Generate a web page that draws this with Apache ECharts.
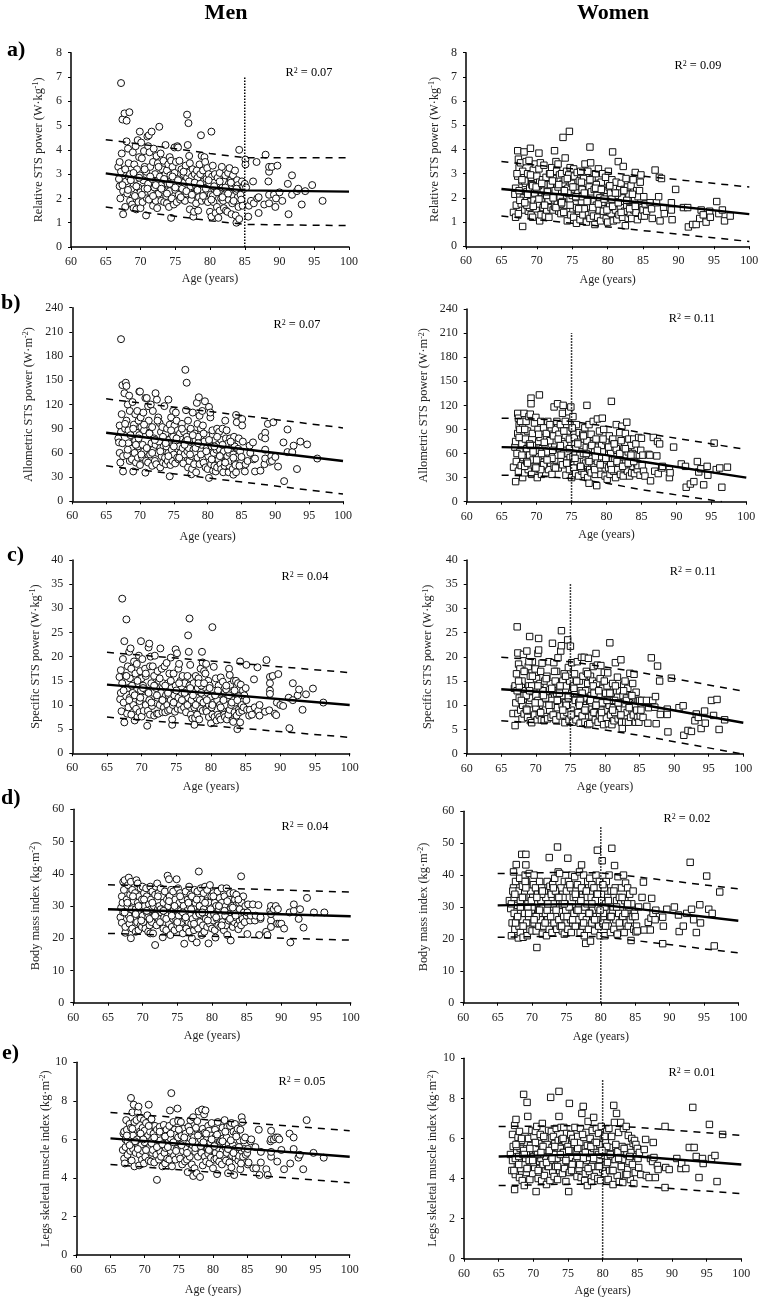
<!DOCTYPE html>
<html><head><meta charset="utf-8">
<style>html,body{margin:0;padding:0;background:#fff}#c{width:770px;height:1306px}</style>
<script src="https://cdn.jsdelivr.net/npm/echarts@6/dist/echarts.min.js"></script>
</head><body><div id="c"></div>
<script>
const menAges=[
66.8,66.9,67.0,67.0,67.1,67.2,67.2,67.3,67.4,67.5,67.5,67.7,67.8,67.9,
68.0,68.0,68.1,68.2,68.3,68.3,68.4,68.5,68.5,68.7,68.8,68.9,69.0,69.0,
69.1,69.2,69.3,69.3,69.4,69.5,69.6,69.7,69.7,69.8,69.9,69.9,70.0,70.0,
70.1,70.2,70.3,70.4,70.5,70.6,70.6,70.8,70.8,70.9,71.0,71.1,71.1,71.2,
71.2,71.3,71.4,71.5,71.6,71.7,71.8,71.8,71.9,72.0,72.1,72.2,72.3,72.3,
72.4,72.5,72.6,72.7,72.8,72.9,73.0,73.0,73.1,73.2,73.3,73.4,73.5,73.6,
73.6,73.7,73.8,73.8,73.9,74.0,74.1,74.2,74.2,74.3,74.4,74.4,74.5,74.6,
74.7,74.8,74.9,74.9,75.0,75.1,75.2,75.3,75.3,75.4,75.5,75.6,75.7,75.8,
75.9,76.0,76.1,76.2,76.3,76.4,76.5,76.6,76.7,76.7,76.8,76.9,76.9,77.0,
77.1,77.1,77.2,77.3,77.4,77.5,77.6,77.6,77.7,77.8,77.9,78.0,78.1,78.1,
78.2,78.3,78.4,78.5,78.5,78.6,78.7,78.8,78.8,78.9,79.0,79.1,79.2,79.3,
79.3,79.4,79.5,79.6,79.7,79.7,79.8,79.9,80.0,80.1,80.2,80.2,80.3,80.4,
80.4,80.5,80.6,80.7,80.8,80.9,81.0,81.1,81.2,81.3,81.4,81.4,81.5,81.6,
81.7,81.8,81.9,82.0,82.0,82.1,82.2,82.3,82.4,82.5,82.6,82.7,82.7,82.8,
82.9,83.0,83.1,83.2,83.2,83.3,83.4,83.5,83.6,83.7,83.8,83.8,83.9,84.0,
84.0,84.1,84.2,84.2,84.3,84.4,84.5,84.6,84.7,84.8,
67.4,67.8,68.2,68.6,69.0,69.4,69.8,70.2,70.6,71.0,71.4,71.8,72.2,72.6,
73.0,73.4,73.8,74.2,74.6,75.0,75.4,75.8,76.2,76.6,77.0,77.4,77.8,78.2,
78.6,79.0,79.4,79.8,80.2,80.6,81.0,81.4,81.8,82.2,82.6,83.0,83.4,83.8,
85.0,85.1,85.1,85.2,85.5,85.6,85.9,86.2,86.3,86.7,86.8,87.0,87.0,87.8,88.0,88.4,88.5,88.5,88.5,88.5,88.9,89.2,89.4,89.5,89.7,90.0,90.4,91.2,91.3,91.8,91.8,92.5,92.7,93.2,93.7,94.7,96.2];
const menRelative=[
3.3,2.8,3.5,2.5,2.0,6.75,3.1,3.85,5.25,1.35,2.3,5.5,1.65,2.7,
5.2,4.35,2.2,4.05,2.9,3.45,5.55,1.9,3.0,2.4,1.75,3.9,2.6,1.6,
3.4,2.1,4.15,2.8,1.55,3.2,4.4,2.45,1.85,3.7,4.75,2.95,1.6,2.25,
4.3,3.65,1.85,2.75,3.95,2.4,3.3,1.3,3.1,2.0,4.55,4.15,2.6,4.6,
1.95,3.9,3.3,2.25,4.75,2.8,1.7,3.5,4.05,2.45,3.0,1.9,3.75,2.7,
1.6,3.45,2.2,4.95,2.9,3.85,1.9,2.55,3.2,2.35,3.55,1.85,2.75,3.0,
4.2,2.1,3.15,1.8,2.6,3.4,1.65,3.7,2.3,2.95,1.2,3.55,2.0,3.3,
2.55,1.75,4.1,3.05,2.35,3.5,1.85,4.15,2.8,4.1,2.15,3.55,1.95,2.7,
3.2,2.4,2.0,3.0,2.65,1.9,3.35,2.2,5.45,2.85,4.2,5.1,3.05,3.75,
1.55,3.45,2.5,1.95,2.9,3.2,1.25,2.2,1.45,3.0,2.55,1.8,3.15,2.3,
2.85,1.5,2.05,3.4,2.5,3.0,4.6,1.9,3.75,2.35,3.15,2.7,3.7,2.05,
3.5,1.95,2.8,3.25,2.3,1.85,3.0,2.6,1.45,2.15,4.75,1.25,2.9,3.35,
2.1,1.85,2.65,3.0,1.4,2.4,1.65,2.85,1.2,2.25,3.05,1.5,2.6,2.0,
3.3,2.45,1.9,2.7,1.6,2.15,2.95,1.5,2.35,1.45,3.05,2.6,1.95,3.25,
2.2,2.75,1.35,2.5,1.8,2.95,2.1,2.6,3.15,1.3,1.0,2.3,2.75,2.05,
2.55,1.65,4.0,1.15,2.4,2.15,1.95,2.7,1.7,2.5,
2.55,3.2,2.35,2.75,3.05,2.5,2.85,2.15,3.2,2.4,2.9,2.1,2.55,3.3,
2.4,2.8,2.2,2.6,2.9,2.45,2.75,2.05,3.1,2.3,2.7,2.15,2.65,2.35,
2.6,2.1,2.4,2.75,1.95,2.5,2.25,2.7,2.05,2.45,2.2,2.65,1.9,2.4,
2.6,3.6,3.4,2.45,1.25,1.7,1.9,2.7,1.8,3.5,2.0,2.05,1.4,1.75,3.8,2.7,3.1,3.3,2.15,1.8,3.3,2.15,1.65,2.0,3.35,2.25,1.9,2.6,1.35,2.95,2.15,2.3,2.4,1.75,2.3,2.55,1.9];
const menAllometric=[
78,73,94,60,48,201,86,108,144,37,56,134,90,147,
100,143,57,120,72,88,131,50,112,65,52,123,80,37,
95,60,108,75,48,85,112,68,54,100,136,82,45,136,
104,92,55,70,110,62,88,35.5,128,50,128,96,66,118,
48,100,85,58,120,72,44,92,112,64,78,50,134,70,
46,126,60,104,74,97,42,66,86,56,92,48,68,80,
118,54,84,46,68,90,50,126,60,76,31,95,45,104,
64,50,112,80,58,94,47,110,72,100,54,88,52,68,
84,60,52,96,66,47,86,58,163,74,113,147,80,62,
42,100,66,50,74,90,33.5,56,40,110,64,46,84,60,
76,36,122,96,54,80,129,46,106,64,90,70,112,52,
94,48,74,124,60,42,82,66,40,56,29,117,72,104,
110,46,68,88,38,60,44,76,37,64,90,42,70,52,
86,64,46,76,40,58,90,36,62,44,100,78,50,88,
56,72,36,60,44,78,50,66,74,40,33,58,80,48,
68,45,107,36,98,55,65,78,44,62,
72,96,64,82,90,70,78,58,95,66,84,60,76,100,
62,80,72,56,88,68,78,54,90,70,76,58,82,66,
72,58,84,62,76,52,68,80,56,70,48,64,74,54,
55,102,94,74,37,46,50,69,60,73,52,53,37,38,80,46,85,78,64,53,96,49,56,50,98,55,43,73,25,89,61,61,69,40,74,70.5,53];
const menSpecific=[
15.8,11.2,17.2,12.5,8.7,32,14.5,19.5,10.5,6.4,23.2,16,27.7,8.2,
13.5,18,9.5,21,11.5,15.5,21.7,8,17.5,12.5,10,19,14.5,6.8,
16.5,9.2,18.5,12,7.5,14.5,20.2,10.8,8.5,17,23.2,13,7.6,15.5,
19.5,14,8.8,11.5,17.5,10,16,5.7,13,8.8,21.9,22.7,11,18,
8,20,14.5,9.8,18,12.5,7.8,16,20.2,10.5,13.5,8.2,17,11.5,
8.2,15,10,21.7,12.5,17.5,8.5,11,14.5,9.5,18,8.5,12,13.8,
18.7,10,14.5,8.8,12,16.5,9,19.8,11,13.5,5.9,7,10,16.5,
12,8.6,21.5,14,10.5,20.7,9.2,17.5,11.5,18.5,10,15,9,12.5,
16,11,9.5,14.5,12,8.5,13,10,24.4,11.5,21,27.9,14,18.3,
8,15.5,11,7.2,13,14.5,5.9,9.5,7.3,16,11.5,8,13.5,10,
15.5,7,11,17.5,9.2,14,21,8.8,18.8,10.5,17,12,16.5,9,
18.5,8.6,12.5,15,10,7.5,14,11.5,6.2,9.5,26.1,8,13,17.9,
10.5,7.5,12,15.5,6.8,11,8,14,7.5,10,15.7,7,12.5,9.2,
14.8,11,8,12.5,7.5,10,13.2,7,11.5,8,17.5,16.2,9,14.2,
10,12.5,6.8,11,6.5,15,8.5,10.5,15,7.8,5,12,14.5,9,
11.8,8.5,19,6.4,14.2,10,8.8,13,9.5,12,
13,16,11,14,12,15,11.5,13.5,16.5,12.5,10.5,14,12,15.5,
11,14,12.5,15,10.5,13,14.5,11,12.5,16,13.5,12,10,14.5,
12.5,14.5,11,13.5,10,12,13,9.5,11,14,12,10.5,13,11,
13.5,18.3,11,9,7.8,9,8,15.3,9.5,17.8,8.8,10,7.8,8.6,19.3,8.9,13,15.8,14.5,12.3,16,8.2,7.9,10.5,16.4,10,9.8,11.5,5.2,14.5,11,12,13.2,9,12.2,13.4,10.5];
const menBmi=[
26.5,29.5,33,24.8,31,37.5,28,35,38,21.7,23.5,32,30,36.5,
38.8,27,24.5,33.5,37.5,20,29,35,23,31.5,26.5,34,22,29,
38,25,37,31,22.5,33,27.5,35.5,24,29.5,23.5,32,36,27,
25,34,30,23,35.5,28,33,22,26.5,30.5,24,36,21.5,29,
32,25,34.5,21.5,30,27,17.9,33.5,36,24,37,29,26,34,
30,25,35.5,28,33,20.3,23,31,26.5,34.5,28.5,22.5,32,39.4,
27,30,38.3,24.5,33,21,35,28,23.5,31,26,34.5,29,22.5,
32,26,38.3,29,24,35.5,27,31,23,34,28.5,25,32,21.5,
30,18.3,26,34.5,23,28.5,32,25,36,22,30,27,33.5,24.5,
20,33,26,29.5,22.5,35,24,31,27,18.7,34.5,23,40.7,28,
30,25,35.5,21,32,27,24,34,29,22,36,26,31.5,23.5,
35,28,18.4,31,24.5,36.5,27,33,23,29.5,25.5,34,27.5,31,
22.5,20.2,30,26,34.5,24,29,32.5,23.5,27,31,35.5,25,29,
22.5,33,27,30,24,35.5,21,28.5,25.5,32,34,19.3,29.5,26,
30,23.5,34,28,25,32,26.5,33.5,30.5,24,27,22.8,31,25.5,
29,27,39.2,24,31,26,33,28,25,30,
28,31,26,33,27.5,30,25.5,32,28.5,26,31,27,33,29,
28.5,26,31.5,27,30,25,33,28,26.5,31,29,24.5,32,27.5,
28,31,25.5,29,33,26.5,30,24,28.5,31.5,26,29.5,27,32,
27,21.3,28,30.5,25.5,27,30.5,25.5,27,30.3,21,26,26.5,22,21,28.5,25.5,23.5,30,27.5,29,30,24.5,29,24.5,24.5,23,28,18.7,28.5,30.5,26,29,23.3,32.5,28,28];
const menLegs=[
5.45,6.3,5.0,6.4,4.75,6.0,5.6,7.0,6.5,5.2,5.9,6.1,6.8,5.4,
8.15,6.6,4.9,7.4,5.5,6.2,7.8,4.6,6.9,5.3,7.0,6.0,5.6,7.4,
7.7,4.65,6.4,5.2,7.1,5.7,4.95,6.6,5.4,6.1,7.0,4.75,5.85,6.45,
5.1,6.85,5.5,7.25,6.2,4.9,7.8,5.65,6.4,4.85,7.05,6.0,5.3,6.7,
5.45,6.3,4.8,6.7,5.8,5.2,3.9,6.5,5.6,6.1,4.95,6.65,5.35,5.95,
5.1,6.4,4.6,5.7,6.75,5.3,6.1,4.75,5.55,6.5,5.0,6.2,5.85,4.95,
6.7,7.5,6.05,5.4,8.4,4.6,6.35,5.6,6.9,5.15,6.5,5.85,4.95,6.25,
5.5,7.6,6.1,6.95,5.2,6.45,5.0,6.9,5.75,6.2,4.7,5.4,6.55,5.95,
4.85,6.3,5.55,4.95,4.3,6.65,5.8,5.1,6.05,7.0,5.45,6.3,4.7,5.7,
4.1,7.15,6.1,4.5,5.35,6.6,4.25,5.85,6.95,5.1,7.45,6.25,5.5,4.05,
6.0,5.3,7.55,4.65,6.55,5.75,7.3,5.1,6.35,7.5,4.85,6.0,5.5,6.7,
5.25,6.45,4.75,5.85,6.2,5.05,6.85,5.45,4.5,6.0,5.7,4.95,6.5,5.3,
6.15,5.0,4.2,6.9,5.55,4.85,6.3,5.2,5.95,4.7,6.6,5.4,6.05,5.1,
7.0,5.6,4.9,6.1,5.3,6.65,4.25,5.75,4.8,6.7,5.45,4.55,6.85,5.15,
5.7,6.4,4.15,5.5,6.8,5.05,6.3,5.25,6.55,4.9,5.6,5.15,5.95,4.45,
6.5,4.75,7.15,5.4,6.9,5.1,5.95,5.5,6.1,5.2,
6.2,5.7,6.55,5.9,5.5,6.3,6.0,5.45,6.7,5.8,6.1,5.6,6.4,5.75,
6.15,5.6,6.3,5.85,5.4,6.5,5.7,6.1,5.3,6.45,5.9,5.55,6.2,5.65,
5.85,6.3,5.45,6.0,5.65,6.25,5.2,5.9,6.4,5.5,5.95,5.3,6.15,5.6,
5.3,4.7,5.5,4.8,5.9,6.0,4.5,5.6,4.5,6.5,4.15,5.35,4.8,4.45,4.15,5.9,6.45,5.1,5.35,6.0,6.0,6.1,4.85,6.1,6.0,5.45,4.45,6.3,4.75,6.1,5.5,5.05,5.2,4.45,7.0,5.3,5.05];

const womenAges=[
66.7,66.9,67.0,67.0,67.1,67.3,67.3,67.4,67.4,67.5,67.6,67.7,67.8,67.9,
68.0,68.0,68.1,68.2,68.3,68.4,68.5,68.6,68.6,68.7,68.8,68.9,69.0,69.1,
69.1,69.2,69.2,69.3,69.4,69.5,69.6,69.7,69.8,69.9,70.0,70.1,70.2,70.3,
70.3,70.4,70.4,70.5,70.6,70.7,70.8,70.9,71.0,71.1,71.2,71.3,71.4,71.5,
71.6,71.7,71.8,71.9,72.0,72.1,72.2,72.3,72.4,72.5,72.5,72.6,72.7,72.8,
72.9,73.0,73.0,73.1,73.2,73.3,73.4,73.5,73.6,73.7,73.7,73.8,73.9,74.0,
74.0,74.1,74.2,74.3,74.4,74.5,74.6,74.7,74.7,74.8,74.9,75.0,75.1,75.2,
75.2,75.3,75.4,75.5,75.6,75.7,75.8,75.9,76.0,76.1,76.2,76.3,76.4,76.5,
76.6,76.7,76.8,76.9,77.0,77.1,77.2,77.3,77.3,77.4,77.5,77.5,77.6,77.7,
77.8,77.8,77.9,78.0,78.1,78.2,78.3,78.4,78.5,78.6,78.7,78.7,78.8,78.9,
79.0,79.1,79.2,79.3,79.4,79.5,79.6,79.7,79.8,79.9,80.0,80.1,80.2,80.3,
80.4,80.5,80.6,80.7,80.8,80.9,81.0,81.1,81.2,81.3,81.4,81.5,81.6,81.7,
81.8,81.9,82.0,82.1,82.2,82.3,82.4,82.5,82.6,82.7,82.8,82.9,83.0,83.1,
83.2,83.3,83.4,83.5,83.6,83.7,83.8,83.9,84.0,84.1,84.2,84.3,84.4,84.5,
84.6,84.7,84.8,84.9,67.2,67.6,68.3,69.0,70.0,71.0,
68.6,69.4,70.6,71.4,72.2,73.4,74.4,75.6,76.4,77.2,78.4,79.4,80.6,81.4,
67.5,67.9,68.3,68.7,69.1,69.5,69.9,70.3,70.7,71.1,71.5,71.9,72.3,72.7,
73.1,73.5,73.9,74.3,74.7,75.1,75.5,75.9,76.3,76.7,77.1,77.5,77.9,78.3,
78.7,79.1,79.5,79.9,80.3,80.7,81.1,81.5,81.9,82.3,82.7,83.1,83.5,83.9,
85.0,85.1,85.2,85.3,85.5,86.0,86.2,86.3,86.7,86.9,87.2,87.3,87.4,87.6,87.9,88.0,89.0,89.0,89.1,89.6,90.7,91.3,91.4,92.0,92.5,93.0,93.2,93.5,93.9,94.4,94.5,95.4,95.7,96.2,96.5,97.3];
const womenRelative=[
1.4,2.15,1.2,2.4,1.7,3.95,2.9,3.6,1.35,3.25,2.05,3.45,1.75,2.7,
0.82,3.1,2.0,3.9,1.5,2.6,3.5,1.9,2.25,3.0,1.45,3.55,2.4,1.85,
4.05,1.3,2.85,2.55,1.2,3.15,1.9,2.2,3.4,1.55,2.9,1.75,2.5,3.85,
3.2,1.05,2.65,3.45,1.3,2.1,2.75,1.6,3.35,2.0,1.25,2.85,1.5,2.35,
1.9,1.2,3.0,2.55,1.6,3.25,2.15,1.5,2.8,3.95,1.65,2.3,3.5,3.1,
1.75,2.45,3.4,1.45,2.95,2.05,1.35,3.0,1.85,4.5,2.6,1.4,2.25,3.65,
2.75,1.7,3.1,1.05,2.4,2.95,4.75,1.95,3.25,1.3,2.6,2.1,1.55,3.2,
1.2,2.9,2.45,1.75,0.95,3.05,2.2,1.45,2.7,1.1,3.1,1.85,2.35,1.3,
2.8,1.55,3.4,2.1,1.0,2.6,3.1,1.3,1.9,2.45,4.1,1.15,3.45,2.25,
1.4,2.8,1.85,1.25,2.35,0.9,3.0,1.7,2.1,1.2,3.2,2.6,1.5,2.0,
1.05,2.65,1.75,3.0,1.3,2.3,1.55,2.85,1.15,2.05,1.0,3.1,2.45,1.65,
2.2,1.35,2.75,3.9,1.05,1.8,2.4,1.5,2.65,1.1,2.1,3.5,1.3,2.35,
1.6,2.6,2.0,1.2,3.3,2.35,1.45,0.85,2.8,1.7,2.45,1.15,2.15,1.85,
1.35,2.5,1.15,1.9,2.75,1.5,1.95,3.05,1.4,2.3,1.1,2.05,1.7,2.3,
2.65,2.95,1.25,1.6,3.0,1.9,2.7,1.6,2.35,2.55,
1.7,2.5,1.95,2.1,2.7,1.75,2.2,1.6,2.05,1.9,2.55,1.45,1.95,2.2,
2.3,2.75,1.8,2.15,2.95,1.65,2.45,1.95,2.6,1.7,2.25,3.0,2.0,1.6,
2.55,1.8,2.3,2.8,1.7,2.45,2.05,1.55,2.65,2.2,1.85,2.75,1.6,2.4,
1.75,2.35,1.95,1.5,2.5,1.65,2.2,1.8,1.4,2.3,1.9,1.55,2.15,1.65,
1.5,2.05,1.25,1.75,1.45,1.8,1.55,1.15,3.15,1.8,2.05,2.85,1.05,2.8,1.6,1.35,1.8,1.5,1.1,2.35,1.6,1.6,0.8,0.9,0.9,1.15,1.5,1.3,1.0,1.45,1.2,1.85,1.35,1.5,1.05,1.25];
const womenAllometric=[
43,68,25,75,50,110,85,104,38,95,62,100,45,72,
30,92,55,110,36,78,100,48,66,88,40,106,58,46,
109,129,122,34,85,52,70,98,44,105,62,30,90,75,
56,133,40,80,100,34,66,46,92,58,72,36,85,50,
100,40,60,76,48,92,34,56,82,118,44,68,90,52,
100,122,58,42,84,66,96,50,75,110,46,120,60,88,
72,100,33,52,88,60,112,40,78,55,118,30,92,56,
106,42,80,62,35,96,50,74,32,86,58,44,70,38,
84,60,34,92,48,68,120,30,76,52,23,96,40,66,
36,84,54,72,100,44,62,34,78,20,103,50,68,40,
88,56,34,70,104,46,90,62,32,76,52,28,66,42,
82,34,60,125,46,78,38,72,52,30,96,64,40,70,
48,86,34,76,94,56,32,66,44,85,58,99,38,62,
78,32,52,70,36,60,44,78,35,58,72,48,40,45,
80,58,33,64,60,90,44,72,52,46,
50,70,40,62,54,70,48,66,42,76,56,62,46,66,
80,58,90,48,70,62,42,84,60,74,52,96,64,42,
78,58,88,48,66,92,54,72,44,82,60,50,70,40,
64,46,78,54,68,40,72,50,60,44,66,48,58,50,
79,45,58,38,32,59,58,26,80,38,57,75,35,72,42,44,40,30,36,68,47,44,18,22,25,50,37,41,21,44,33,73,40,42,18,43];
const womenSpecific=[
8.3,13.5,5.8,14,10.5,26.2,13,20.8,8.3,18.5,11.5,17.5,9,13.8,
7.2,15,10,20.5,8.2,13,17,9.2,12,21.2,7.5,18,14,11,
24.2,6.8,16,11.5,6.4,19,9,13,8,17.5,12,15.5,7,20.7,
11,23.8,21.4,8,14.5,17,7,18.7,10,13,6.8,15,9,12,
16,7.2,11.5,19,9,14.5,7.5,11,22.8,8,13,18.8,10,15,
7,12.5,17,9.5,19.8,11,13.5,7.8,21.2,25.4,22.3,10,15,8,
12,16.5,6.4,10.5,14,8.5,23.5,11.5,17.8,7,15,22.2,9,12.5,
18.8,6.5,14,8.2,16.5,11,7,12.5,19,8.5,10.5,15,6.3,13,
19.9,7.8,16,10,19.9,6.5,13,17,8.8,11.5,14.5,6,19.7,9.5,
10.5,6.2,16,12,7.8,15,18,8.5,13,7,20.7,10,14.5,18.3,
6.5,12,8,15.5,18.2,7.2,10.5,13.5,6,16.8,9,12.5,7.5,14,
16.7,6.2,10,22.9,8,12.5,6,14.5,9.5,6.8,11,18.8,8,13,
15.8,7.2,10.5,13,8,19.4,6.5,5.2,12,14.2,9,15,6.5,11.5,
8.5,13.5,6.5,10.5,16.6,7.5,12,9,14.5,8,16.4,10.2,6.5,12.7,
9,7.5,11,6.5,16.5,14,12,19,9.5,13,
12,14,10.5,11.5,10,12.5,10,13,11,9.5,12.5,9,11,8.5,
15,11,17,9,13,16,10.5,14,8.5,12,15.5,10,13.5,17,
11,14,9,16,12,8,13.5,15,10,12.5,9,16.5,11,14,
10,13,8.5,15,11,12.5,9,14,10.5,8,13,11,9.5,12,
11,7.8,9,11,7.5,11,6.3,9.5,19.8,11,9.6,11.8,6.2,18.1,15,8.1,9.2,8.1,4.5,15.6,9.5,9.9,3.8,4.8,4.6,6.8,8.2,7.5,5.2,8.8,6.3,11,7.9,11.2,5,7];
const womenBmi=[
32,29.5,21,31,25,41,36,28,33,23,38,43.3,26,30.5,
20.3,35,24,39,22,30,46.5,26,36.5,20.5,33,28,40,46.5,
43.2,25,38,21,31,27,40.5,23,35,29,22.5,33,37,25,
40,31,27,36,22.5,17.3,34,29,24,38,26,32,36,21.5,
30,24,35,28,33,21,38,26,31,45.5,23,36.5,29,34,
22,37,28,31,25,39,27,35,23,48.8,33,41,26,30,
40.5,24,36,28.5,22.5,33,27,38,21.5,31,29,35,25,45.3,
23,38,30,27,36,22,40,25,33,28,39.5,24,35,29,
37,26,31,41,22,33,43.2,27,36,24,29,40,21,30,
18.6,35,26,31,38,23,28,39,19.3,33,25,37,29,27,
36,22.5,32,40,26,47.8,30,24,38,21,29,34,44.5,25,
28,36,21,31,38,25,33,24,40,27,22,35,48.4,29,
30,23,43,36,26,32,21.5,39.5,28,33,24,31,36,26,
27,40,22,32,37.5,25,29,36,24,30,34,26,19.5,31,
27,35,23,28,35,25,32,38,30,28,
33,30,27,34,29,35,31,26,33,36,28,34,30,27,
34,27,30,24,36,28,32,26,33,29,35,25,31,27,
36,29,33,24,31,27,37,26,34,29,32,25,35,28,
31,26,34,29,37,24,32,27,35,30,25,33,28,31,
27,22.2,24,22.5,30,33,37.8,22.8,30.2,25.2,22.8,26.5,32.7,28,26,29,26.8,18.5,24,29.3,30,27.5,22.3,24,28,44,29.3,26,22,30.7,25,39.7,29.3,28,17.8,34.7];
const womenLegs=[
5.2,4.4,6.2,4.9,5.6,3.45,6.65,5.0,4.2,6.95,5.4,4.6,6.05,5.1,
4.05,6.35,5.5,4.5,5.9,3.9,5.2,8.2,4.7,3.65,6.1,5.0,4.3,7.8,
5.8,7.1,4.5,6.0,5.3,3.95,5.65,4.8,6.4,4.25,5.1,6.1,4.55,5.5,
6.35,3.35,4.85,6.6,5.2,4.0,5.75,4.5,6.2,5.0,3.9,6.75,4.7,5.4,
4.15,6.0,5.1,3.7,5.7,4.6,6.4,5.3,3.9,8.05,4.9,6.35,5.55,4.35,
6.1,5.2,4.1,5.75,4.6,6.5,5.0,3.95,5.9,8.35,7.1,4.4,5.5,6.55,
4.75,5.95,4.25,5.3,6.55,4.5,5.85,3.85,5.1,6.25,4.85,5.6,3.35,4.3,
7.75,5.4,6.2,4.6,5.05,6.0,4.35,5.7,6.55,4.85,5.3,4.1,6.1,5.0,
4.5,5.8,6.5,4.05,7.25,5.2,7.6,4.7,6.05,3.9,5.5,4.25,6.3,4.9,
5.65,3.65,6.85,5.05,4.35,6.0,5.25,3.85,6.4,4.75,5.5,7.05,4.1,5.8,
4.6,6.5,5.3,4.0,6.25,4.95,5.7,3.9,6.6,5.15,4.45,6.0,5.4,4.25,
5.8,4.7,6.35,5.0,3.95,6.5,4.4,5.55,4.95,6.1,5.1,3.7,7.65,6.8,
4.95,5.6,7.25,4.15,5.35,6.3,3.85,5.05,6.8,4.6,5.6,3.8,6.5,4.95,
5.5,4.2,6.6,5.2,4.45,6.15,4.85,5.55,3.95,5.3,6.0,4.7,5.75,3.75,
5.9,4.3,5.7,5.1,4.4,5.6,5.9,5.3,4.8,5.2,
5.4,4.9,5.2,5.6,4.6,5.0,5.3,4.7,5.5,5.0,4.6,5.2,5.6,4.4,
5.7,4.7,6.0,5.2,4.5,5.5,4.9,5.8,4.4,5.3,6.1,4.8,5.4,5.0,
5.6,4.6,5.2,6.0,4.9,5.4,4.4,5.8,5.1,4.7,6.2,5.3,4.5,5.6,
5.0,5.8,4.6,5.4,6.1,4.8,5.2,4.4,5.7,5.0,4.6,5.5,4.2,5.1,
5.5,5,4.55,5.3,4.2,5.45,5.95,4.15,4.05,5,4.85,5.8,5.05,4.05,4.65,4.45,3.55,6.6,4.55,4.45,5,4.5,4.75,4.5,5.55,7.55,5.55,5.1,4.05,5,4.75,6.7,5,5.15,3.85,6.2];

// Trend lines [age, value]
const menRelTrend=[[65,3.03],[70,2.83],[75,2.65],[80,2.46],[85,2.33],[100,2.28]];
const menRelUpper=[[65,4.42],[70,4.23],[75,4.05],[80,3.85],[85,3.68],[100,3.67]];
const menRelLower=[[65,1.65],[70,1.45],[75,1.27],[80,1.08],[85,0.93],[100,0.88]];
const womenRelTrend=[[65,2.37],[75,2.1],[85,1.8],[100,1.33]];
const womenRelUpper=[[65,3.5],[75,3.2],[85,2.9],[100,2.45]];
const womenRelLower=[[65,1.25],[75,0.95],[85,0.65],[100,0.2]];
const menAllTrend=[[65,85],[100,50]];
const menAllUpper=[[65,127],[100,91]];
const menAllLower=[[65,44],[100,9]];
const womenAllTrend=[[65,68],[70,67],[75,64],[80,58],[85,50],[100,30]];
const womenAllUpper=[[65,104],[70,103],[75,100],[80,94],[85,86],[100,65]];
const womenAllLower=[[65,33],[70,32],[75,29],[80,23],[85,15],[96.5,0]];
const menSpecTrend=[[65,14.2],[100,10]];
const menSpecUpper=[[65,20.9],[100,16.7]];
const menSpecLower=[[65,7.5],[100,3.3]];
const womenSpecTrend=[[65,13.3],[75,12.4],[85,10.2],[100,6.4]];
const womenSpecUpper=[[65,19.9],[75,19],[85,16.8],[100,12.9]];
const womenSpecLower=[[65,6.8],[75,6],[85,3.8],[99.6,0]];
const menBmiTrend=[[65,29],[100,26.8]];
const menBmiUpper=[[65,36.6],[100,34.3]];
const menBmiLower=[[65,21.5],[100,19.4]];
const womenBmiTrend=[[65,30.5],[75,30.9],[80,30.7],[85,29.5],[100,25.7]];
const womenBmiUpper=[[65,40.5],[75,40.9],[80,40.7],[85,39.5],[100,35.7]];
const womenBmiLower=[[65,20.5],[75,20.9],[80,20.7],[85,19.5],[100,15.6]];
const menLegsTrend=[[65,6.05],[100,5.1]];
const menLegsUpper=[[65,7.4],[100,6.45]];
const menLegsLower=[[65,4.7],[100,3.75]];
const womenLegsTrend=[[65,5.1],[75,5.18],[80,5.2],[85,5.1],[100,4.7]];
const womenLegsUpper=[[65,6.6],[75,6.63],[80,6.65],[85,6.55],[100,6.15]];
const womenLegsLower=[[65,3.65],[75,3.72],[80,3.72],[85,3.62],[100,3.25]];

const ageTicks={min:60,max:100,interval:5};
const panelLabels=['a)','b)','c)','d)','e)'];
const columnTitles=['Men','Women'];

const serif='"Liberation Serif","Times New Roman",serif';
const panels=[
 {x:menAges,y:menRelative,sym:'circle',box:[71,52.7,349,247],ymax:8,step:1,name:['Relative STS power (W·kg','-1',')'],gap:26,xgap:26,r2:'0.07',r2at:[309,73],cut:[85,7],lines:[menRelTrend,menRelUpper,menRelLower]},
 {x:womenAges,y:womenRelative,sym:'rect',box:[466,52.7,749.3,246.3],ymax:8,step:1,name:['Relative STS power (W·kg','-1',')'],gap:25,xgap:28,r2:'0.09',r2at:[698,66],lines:[womenRelTrend,womenRelUpper,womenRelLower]},
 {x:menAges,y:menAllometric,sym:'circle',box:[72.3,307.7,343,501.3],ymax:240,step:30,name:['Allometric STS power (W·m','-2',')'],gap:37,xgap:30,r2:'0.07',r2at:[297,325],lines:[menAllTrend,menAllUpper,menAllLower]},
 {x:womenAges,y:womenAllometric,sym:'rect',box:[466.7,309,746.3,501.7],ymax:240,step:30,name:['Allometric STS power (W·m','-2',')'],gap:36,xgap:27,r2:'0.11',r2at:[692,319],cut:[75,210],lines:[womenAllTrend,womenAllUpper,womenAllLower]},
 {x:menAges,y:menSpecific,sym:'circle',box:[72.3,560,349.7,753.3],ymax:40,step:5,name:['Specific STS power (W·kg','-1',')'],gap:30,xgap:28,r2:'0.04',r2at:[305,577],lines:[menSpecTrend,menSpecUpper,menSpecLower]},
 {x:womenAges,y:womenSpecific,sym:'rect',box:[466.7,560,743.3,753.7],ymax:40,step:5,name:['Specific STS power (W·kg','-1',')'],gap:32,xgap:27,r2:'0.11',r2at:[693,572],cut:[75,35],lines:[womenSpecTrend,womenSpecUpper,womenSpecLower]},
 {x:menAges,y:menBmi,sym:'circle',box:[73.3,809.3,350.7,1002.7],ymax:60,step:10,name:['Body mass index (kg·m','-2',')'],gap:31,xgap:27,r2:'0.04',r2at:[305,827],lines:[menBmiTrend,menBmiUpper,menBmiLower]},
 {x:womenAges,y:womenBmi,sym:'rect',box:[463.3,811.3,738.3,1002.7],ymax:60,step:10,name:['Body mass index (kg·m','-2',')'],gap:33,xgap:28,r2:'0.02',r2at:[687,819],cut:[80,55.5],lines:[womenBmiTrend,womenBmiUpper,womenBmiLower]},
 {x:menAges,y:menLegs,sym:'circle',box:[76.3,1062.3,349.7,1255],ymax:10,step:2,name:['Legs skeletal muscle index (kg·m','-2',')'],gap:23,xgap:29,r2:'0.05',r2at:[302,1082],lines:[menLegsTrend,menLegsUpper,menLegsLower]},
 {x:womenAges,y:womenLegs,sym:'rect',box:[464,1058.3,741.3,1258.7],ymax:10,step:2,name:['Legs skeletal muscle index (kg·m','-2',')'],gap:24,xgap:26,r2:'0.01',r2at:[692,1073],cut:[80,8.9],lines:[womenLegsTrend,womenLegsUpper,womenLegsLower]}
];
const labelPos=[[7,50],[1,303],[7,555],[1,798],[2,1053]];

const rich={a:{fontFamily:serif,fontSize:12.3,color:'#222'},s:{fontFamily:serif,fontSize:8,color:'#222',verticalAlign:'bottom',padding:[0,0,5,0]}};
const grid=[],xAxis=[],yAxis=[],series=[],graphic=[];
panels.forEach((p,i)=>{
  if(p.x.length!==p.y.length)console.error('length mismatch panel',i,p.x.length,p.y.length);
  const [l,t,r,b]=p.box;
  grid.push({left:l,top:t,width:r-l,height:b-t});
  const axisLine={onZero:false,lineStyle:{color:'#000',width:1.5}};
  const axisTick={length:3,lineStyle:{color:'#000',width:1}};
  const axisLabel={fontFamily:serif,fontSize:12,color:'#222',margin:9};
  xAxis.push({type:'value',gridIndex:i,min:ageTicks.min,max:ageTicks.max,interval:ageTicks.interval,splitLine:{show:false},axisLine,axisTick,axisLabel,
    name:'Age (years)',nameLocation:'middle',nameGap:p.xgap,nameTextStyle:{fontFamily:serif,fontSize:12,color:'#222'}});
  yAxis.push({type:'value',gridIndex:i,min:0,max:p.ymax,interval:p.step,splitLine:{show:false},axisLine:{...axisLine,show:true},axisTick:{...axisTick,show:true},axisLabel,
    name:`{a|${p.name[0]}}{s|${p.name[1]}}{a|${p.name[2]}}`,nameLocation:'middle',nameGap:p.gap,nameRotate:90,nameTextStyle:{rich}});
  series.push({type:'scatter',xAxisIndex:i,yAxisIndex:i,symbol:p.sym,symbolSize:p.sym==='circle'?7:6.4,
    itemStyle:{color:'#fff',borderColor:'#111',borderWidth:1,opacity:1},silent:true,
    data:p.x.map((a,k)=>[a,p.y[k]])});
  p.lines.forEach((ln,k)=>series.push({type:'line',xAxisIndex:i,yAxisIndex:i,data:ln,showSymbol:false,symbol:'none',silent:true,z:5,
    lineStyle:k===0?{color:'#000',width:2.4}:{color:'#000',width:1.5,type:[7,6]}}));
  if(p.cut)series.push({type:'line',xAxisIndex:i,yAxisIndex:i,data:[[p.cut[0],0],[p.cut[0],p.cut[1]]],showSymbol:false,symbol:'none',silent:true,z:4,
    lineStyle:{color:'#000',width:1.5,type:[1.5,1.5]}});
  graphic.push({type:'text',x:p.r2at[0],y:p.r2at[1],style:{text:`{a|R}{s|2}{a| = ${p.r2}}`,rich,align:'center',verticalAlign:'middle'}});
});
panelLabels.forEach((t,i)=>graphic.push({type:'text',x:labelPos[i][0],y:labelPos[i][1],style:{text:t,fontFamily:serif,fontWeight:'bold',fontSize:22,fill:'#000',align:'left',verticalAlign:'middle'}}));
columnTitles.forEach((t,i)=>graphic.push({type:'text',x:[226,613][i],y:13,style:{text:t,fontFamily:serif,fontWeight:'bold',fontSize:22,fill:'#000',align:'center',verticalAlign:'middle'}}));

const chart=echarts.init(document.getElementById('c'),null,{renderer:'canvas'});
chart.setOption({animation:false,backgroundColor:'#fff',grid,xAxis,yAxis,series,graphic});
</script></body></html>
